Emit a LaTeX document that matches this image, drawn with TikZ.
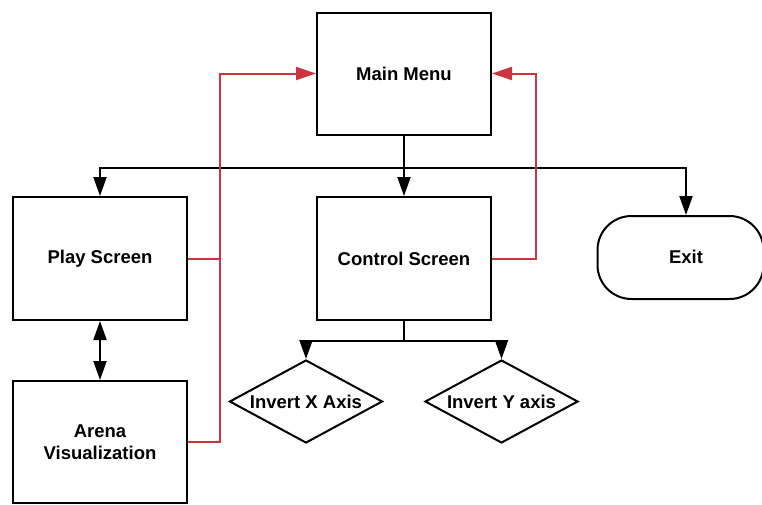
\documentclass[tikz,border=0pt]{standalone}
\usepackage{fontspec}
\setmainfont{Liberation Sans}
\usetikzlibrary{arrows.meta,shapes.geometric}
\definecolor{myred}{RGB}{205,52,64}
\begin{document}
\begin{tikzpicture}[x=1pt,y=-1pt,
  lbl/.style={font=\bfseries\fontsize{18.5}{22}\selectfont, align=center, inner sep=0pt},
  box/.style={lbl, draw=black, line width=2pt, minimum width=174pt, minimum height=122pt, fill=white},
  term/.style={draw=black, line width=2pt, minimum width=166pt, minimum height=83pt, rounded corners=34pt, fill=white, inner sep=0pt},
  dia/.style={diamond, draw=black, line width=2pt, minimum width=153pt, minimum height=83pt, inner sep=0pt, fill=white},
  blk/.style={draw=black, line width=2pt},
  bt/.style={-{Triangle[length=19pt,width=13pt]}},
  redl/.style={draw=myred, line width=2pt},
  rt/.style={-{Triangle[length=20pt,width=13pt]}}
]
\useasboundingbox (0,0) rectangle (762,504);
\clip (0,0) rectangle (762,504);

\node[box] (mm) at (404,73.5) {Main Menu};
\node[box, minimum height=123pt] (ps) at (100,258.5) {Play Screen};
\node[box, minimum height=123pt] (cs) at (404,258.5) {Control Screen};
\node[term] (ex) at (680.5,257.5) {};
\node[lbl] (ext) at (686,256.5) {Exit};
\node[box] (av) at (100,442) {Arena\\Visualization};
\node[dia] (dx) at (306,401.5) {};
\node[lbl] (dxt) at (dx) {Invert X Axis};
\node[dia] (dy) at (501.5,401.5) {};
\node[lbl] (dyt) at (dy) {Invert Y axis};

% black connectors from main menu
\path (mm.south) ++(0,32) coordinate (j1);
\draw[blk] (mm.south) -- (j1);
\draw[blk,bt] (j1) -| (ext |- ex.north);
\draw[blk,bt] (j1) -| (ps.north);
\draw[blk,bt] (j1) -- (cs.north);

% control screen to diamonds
\path (cs.south) ++(0,20) coordinate (j2);
\draw[blk] (cs.south) -- (j2);
\draw[blk,bt] (j2) -| (dx.north);
\draw[blk,bt] (j2) -| (dy.north);

% play <-> arena
\draw[blk,{Triangle[length=19pt,width=13pt]}-{Triangle[length=19pt,width=13pt]}] (ps.south) -- (av.north);

% red return connectors
\path (ps.east) ++(32,0) coordinate (r1);
\draw[redl,rt] (ps.east) -- (r1) |- (mm.west);
\draw[redl] (av.east) -| (r1);
\path (cs.east) ++(44,0) coordinate (r2);
\draw[redl,rt] (cs.east) -- (r2) |- (mm.east);
\end{tikzpicture}
\end{document}
